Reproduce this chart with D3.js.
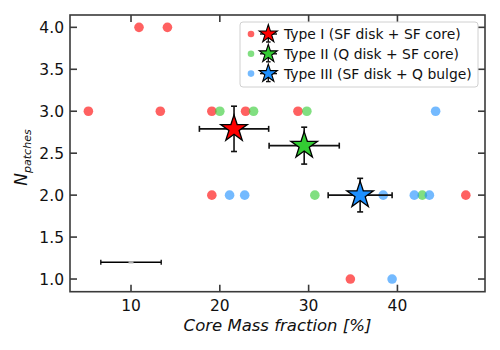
<!DOCTYPE html>
<html><head><meta charset="utf-8">
<script src="https://cdn.jsdelivr.net/npm/d3@7"></script>
<style>body{margin:0;background:#fff}svg{display:block}text{font-family:"DejaVu Sans",sans-serif}</style>
</head><body><svg id="c" width="500" height="350"></svg>
<script>
// ---- data ----
const typeIX = [10.9, 14.1, 5.2, 13.3, 19.1, 22.9, 28.8, 19.1, 47.7, 34.7];
const typeIY = [4, 4, 3, 3, 3, 3, 3, 2, 2, 1];
const typeIIX = [20.0, 23.8, 29.8, 30.7, 42.8];
const typeIIY = [3, 3, 3, 2, 2];
const typeIIIX = [44.3, 21.1, 22.8, 38.4, 41.9, 43.6, 39.4];
const typeIIIY = [3, 2, 2, 2, 2, 2, 1];
const meanNames = ["Type I (SF disk + SF core)", "Type II (Q disk + SF core)", "Type III (SF disk + Q bulge)"];
const meanX = [21.6, 29.5, 35.8];
const meanY = [2.79, 2.59, 2.0];
const meanXerr = [3.9, 3.95, 3.6];
const meanYerr = [0.27, 0.22, 0.2];
const sampleErrX = [10], sampleErrY = [1.2], sampleErrXerr = [3.4];
const xTicks = [10, 20, 30, 40];
const yTicks = [1.0, 1.5, 2.0, 2.5, 3.0, 3.5, 4.0];

const dotColors = ["#ff0000", "#33cc33", "#1e90ff"];
const starColors = ["#ff0000", "#33cc33", "#1e90ff"];

const svg = d3.select("#c");
const L = 70, R = 485, T = 15, B = 291.7;
const x = d3.scaleLinear().domain([3.13, 49.86]).range([L, R]);
const y = d3.scaleLinear().domain([0.849, 4.147]).range([B, T]);
const axisCol = "#3a3a3a";

// dots
const groups = [[typeIX, typeIY], [typeIIX, typeIIY], [typeIIIX, typeIIIY]];
groups.forEach((g, i) => {
  svg.append("g").selectAll("circle").data(g[0]).join("circle")
    .attr("cx", d => x(d)).attr("cy", (d, j) => y(g[1][j])).attr("r", 4.8)
    .attr("fill", dotColors[i]).attr("fill-opacity", 0.62);
});

// sample error bar
const se = svg.append("g").attr("stroke", "#000").attr("stroke-width", 1.3);
sampleErrX.forEach((d, i) => {
  const cy = y(sampleErrY[i]);
  se.append("line").attr("x1", x(d - sampleErrXerr[i])).attr("x2", x(d + sampleErrXerr[i])).attr("y1", cy).attr("y2", cy);
  [d - sampleErrXerr[i], d + sampleErrXerr[i]].forEach(v => se.append("line").attr("x1", x(v)).attr("x2", x(v)).attr("y1", cy - 2.5).attr("y2", cy + 2.5));
  svg.append("rect").attr("x", x(d) - 2.5).attr("y", cy - 1.2).attr("width", 5).attr("height", 2.4).attr("fill", "#aaa");
});

// error bars + stars
const star = d3.symbol().type(d3.symbolStar);
meanX.forEach((d, i) => {
  const g = svg.append("g");
  const cx = x(d), cy = y(meanY[i]);
  const x0 = x(d - meanXerr[i]), x1 = x(d + meanXerr[i]);
  const y0 = y(meanY[i] - meanYerr[i]), y1 = y(meanY[i] + meanYerr[i]);
  const ls = g.append("g").attr("stroke", "#111").attr("stroke-width", 1.6);
  ls.append("line").attr("x1", x0).attr("x2", x1).attr("y1", cy).attr("y2", cy);
  ls.append("line").attr("x1", cx).attr("x2", cx).attr("y1", y0).attr("y2", y1);
  [x0, x1].forEach(v => ls.append("line").attr("x1", v).attr("x2", v).attr("y1", cy - 3).attr("y2", cy + 3));
  [y0, y1].forEach(v => ls.append("line").attr("x1", cx - 3).attr("x2", cx + 3).attr("y1", v).attr("y2", v));
  g.append("path").attr("d", star.size(14 * 14 / 0.8908130915)()).attr("transform", `translate(${cx},${cy})`)
    .attr("fill", starColors[i]).attr("stroke", "#000").attr("stroke-width", 1.3).attr("stroke-linejoin", "miter");
});

// frame
svg.append("rect").attr("x", L).attr("y", T).attr("width", R - L).attr("height", B - T)
  .attr("fill", "none").attr("stroke", axisCol).attr("stroke-width", 1.6);
const tk = 7;
const ticks = svg.append("g").attr("stroke", axisCol).attr("stroke-width", 1.6);
xTicks.forEach(v => {
  ticks.append("line").attr("x1", x(v)).attr("x2", x(v)).attr("y1", B).attr("y2", B - tk);
  ticks.append("line").attr("x1", x(v)).attr("x2", x(v)).attr("y1", T).attr("y2", T + tk);
});
yTicks.forEach(v => {
  ticks.append("line").attr("x1", L).attr("x2", L + tk).attr("y1", y(v)).attr("y2", y(v));
  ticks.append("line").attr("x1", R).attr("x2", R - tk).attr("y1", y(v)).attr("y2", y(v));
});
svg.append("g").selectAll("text").data(xTicks).join("text")
  .attr("x", d => x(d)).attr("y", 311).attr("text-anchor", "middle").attr("font-size", 15.5).attr("fill", "#111").text(d => d);
svg.append("g").selectAll("text").data(yTicks).join("text")
  .attr("x", 64).attr("y", d => y(d)).attr("dy", "0.36em").attr("text-anchor", "end").attr("font-size", 15.5).attr("fill", "#111").text(d => d.toFixed(1));

// axis labels
svg.append("text").attr("x", (L + R) / 2).attr("y", 331).attr("text-anchor", "middle")
  .attr("font-size", 16.5).attr("font-style", "italic").attr("fill", "#111").text("Core Mass fraction [%]");
const yl = svg.append("text").attr("transform", "translate(27,157.5) rotate(-90)").attr("text-anchor", "middle")
  .attr("font-style", "italic").attr("fill", "#111");
yl.append("tspan").attr("font-size", 17).text("N");
yl.append("tspan").attr("font-size", 11).attr("dy", 4).text("patches");

// legend
const lg = svg.append("g");
lg.append("rect").attr("x", 240).attr("y", 22).attr("width", 238).attr("height", 65).attr("rx", 3)
  .attr("fill", "#fff").attr("fill-opacity", 0.85).attr("stroke", "#d0d0d0").attr("stroke-width", 1);
meanNames.forEach((n, i) => {
  const ry = 34 + i * 19.8;
  lg.append("circle").attr("cx", 251).attr("cy", ry).attr("r", 3.3).attr("fill", dotColors[i]).attr("fill-opacity", 0.62);
  const ls = lg.append("g").attr("stroke", "#111").attr("stroke-width", 1.4);
  ls.append("line").attr("x1", 260).attr("x2", 277).attr("y1", ry).attr("y2", ry);
  ls.append("line").attr("x1", 268.3).attr("x2", 268.3).attr("y1", ry - 8).attr("y2", ry + 8);
  ls.append("line").attr("x1", 266).attr("x2", 270.6).attr("y1", ry + 8).attr("y2", ry + 8);
  lg.append("path").attr("d", star.size(9.5 * 9.5 / 0.8908130915)()).attr("transform", `translate(268.3,${ry})`)
    .attr("fill", starColors[i]).attr("stroke", "#000").attr("stroke-width", 1.1);
  lg.append("text").attr("x", 284).attr("y", ry).attr("dy", "0.36em").attr("font-size", 13.9).attr("fill", "#111").text(n);
});
</script></body></html>
